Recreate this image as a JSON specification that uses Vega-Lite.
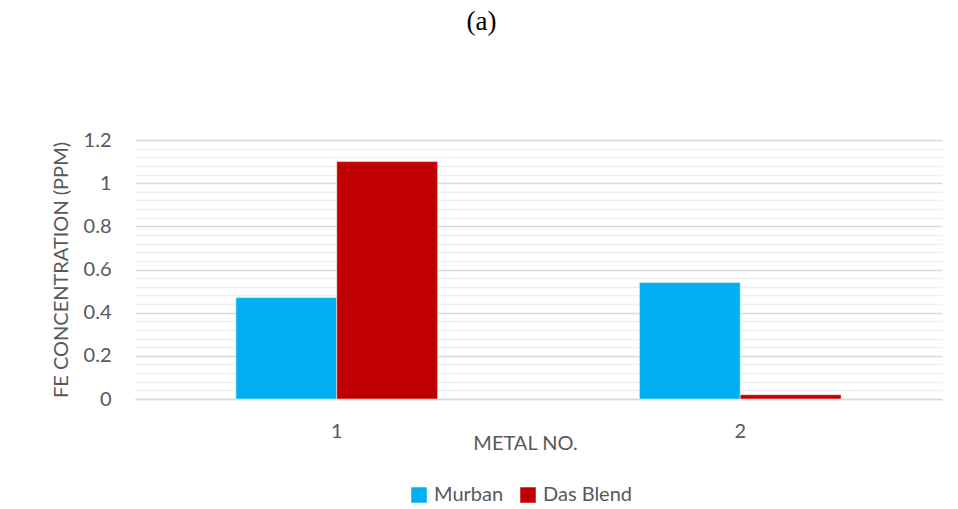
{
  "$schema": "https://vega.github.io/schema/vega-lite/v6.json",
  "autosize": {"type": "none"},
  "width": 807,
  "height": 259,
  "padding": {"left": 135, "top": 140, "right": 16, "bottom": 110},
  "background": "white",
  "title": {
    "text": "(a)",
    "font": "Liberation Serif",
    "fontSize": 27,
    "fontWeight": "normal",
    "color": "#000000",
    "anchor": "middle",
    "dx": -57,
    "offset": 94
  },
  "data": {
    "values": [
      {"metal": "1", "crude": "Murban", "value": 0.47},
      {"metal": "1", "crude": "Das Blend", "value": 1.1},
      {"metal": "2", "crude": "Murban", "value": 0.54},
      {"metal": "2", "crude": "Das Blend", "value": 0.02}
    ]
  },
  "mark": {"type": "bar", "stroke": "white", "strokeWidth": 0.5},
  "encoding": {
    "x": {
      "field": "metal",
      "type": "nominal",
      "scale": {"paddingInner": 0.5, "paddingOuter": 0.25},
      "axis": {
        "title": "METAL NO.",
        "labelAngle": 0,
        "domainColor": "#d9d9d9",
        "domainWidth": 1.5,
        "ticks": false,
        "labelPadding": 22,
        "labelFontSize": 20,
        "labelColor": "#595959",
        "labelFont": "Lato",
        "titleFont": "Lato",
        "titleFontSize": 20,
        "titleFontWeight": "normal",
        "titleColor": "#595959",
        "titleX": 390,
        "titleY": 50,
        "titleBaseline": "alphabetic"
      }
    },
    "xOffset": {"field": "crude", "type": "nominal", "sort": ["Murban", "Das Blend"]},
    "y": {
      "field": "value",
      "type": "quantitative",
      "scale": {"domain": [0, 1.2], "nice": false},
      "axis": {
        "title": "FE CONCENTRATION (PPM)",
        "values": [0, 0.04, 0.08, 0.12, 0.16, 0.2, 0.24, 0.28, 0.32, 0.36, 0.4, 0.44, 0.48, 0.52, 0.56, 0.6, 0.64, 0.68, 0.72, 0.76, 0.8, 0.84, 0.88, 0.92, 0.96, 1, 1.04, 1.08, 1.12, 1.16, 1.2],
        "labelExpr": "abs(datum.value*5 - round(datum.value*5)) < 0.001 ? toString(round(datum.value*10)/10) : ''",
        "gridColor": {"condition": {"test": "abs(datum.value*5 - round(datum.value*5)) < 0.001", "value": "#d9d9d9"}, "value": "#efefef"},
        "gridWidth": 1.5,
        "domain": false,
        "ticks": false,
        "labelPadding": 24,
        "labelFontSize": 20,
        "labelColor": "#595959",
        "labelFont": "Lato",
        "titleFont": "Lato",
        "titleFontSize": 20,
        "titleFontWeight": "normal",
        "titleColor": "#595959",
        "titlePadding": 12
      }
    },
    "color": {
      "field": "crude",
      "type": "nominal",
      "sort": ["Murban", "Das Blend"],
      "scale": {"domain": ["Murban", "Das Blend"], "range": ["#00B0F0", "#C00000"]},
      "legend": {
        "title": null,
        "orient": "none",
        "direction": "horizontal",
        "legendX": 274,
        "legendY": 345,
        "symbolType": "square",
        "symbolSize": 240,
        "symbolStrokeWidth": 0,
        "labelFont": "Lato",
        "labelFontSize": 20,
        "labelColor": "#595959",
        "columnPadding": 14,
        "labelOffset": 5
      }
    }
  },
  "config": {"view": {"stroke": null}}
}
